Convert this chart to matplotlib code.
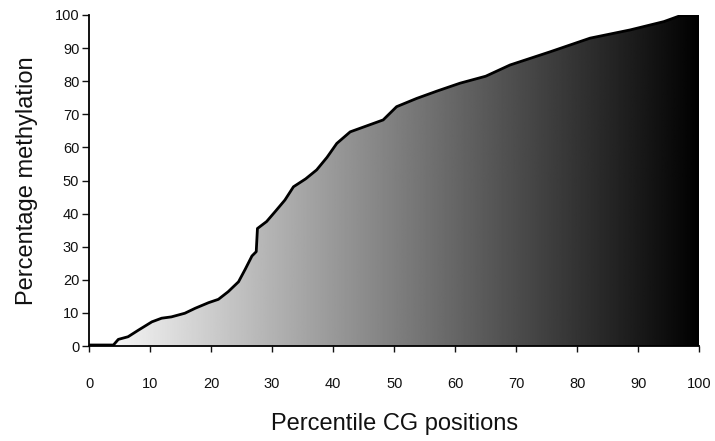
import numpy as np
import matplotlib
matplotlib.use("Agg")
import matplotlib.pyplot as plt
from matplotlib.patches import Polygon

percentile = [0, 4, 4.8, 6.4, 8.1, 10.3, 11.9, 13.5, 15.7, 17.4, 19.6, 21.2, 22.8,
              24.5, 25.6, 26.7, 27.4, 27.6, 29.1, 30.5, 32.1, 33.5, 35.5, 37.3, 39.0,
              40.6, 42.8, 45.5, 48.2, 50.4, 53.7, 57.0, 60.8, 65.0, 69.0, 75.6, 82.1,
              88.7, 94.2, 96.9, 100]
methylation = [0.3, 0.3, 2.0, 2.8, 4.8, 7.3, 8.4, 8.8, 9.9, 11.4, 13.1, 14.1, 16.4,
               19.4, 23.2, 27.2, 28.5, 35.5, 37.6, 40.6, 44.1, 48.1, 50.5, 53.2, 57.0,
               61.2, 64.7, 66.5, 68.3, 72.3, 74.8, 77.0, 79.4, 81.5, 84.9, 88.9, 93.0,
               95.5, 98.0, 99.8, 100]
xticks = list(range(0, 101, 10))
yticks = list(range(0, 101, 10))

plt.rcParams['font.family'] = ['Liberation Sans', 'DejaVu Sans']

fig = plt.figure(figsize=(7.15, 4.41), dpi=100)
ax = fig.add_axes([0.1245, 0.2154, 0.8535, 0.7506])

x = np.array(percentile)
y = np.array(methylation)

# gradient fill clipped to area under curve
grad = np.linspace(1.0, 0.0, 512).reshape(1, -1)
im = ax.imshow(grad, extent=[0, 100, 0, 100], aspect='auto', cmap='gray',
               vmin=0, vmax=1, origin='lower', zorder=1)
verts = np.column_stack([np.concatenate([x, [100, 0]]), np.concatenate([y, [0, 0]])])
poly = Polygon(verts, closed=True, facecolor='none', edgecolor='none', transform=ax.transData)
ax.add_patch(poly)
im.set_clip_path(poly)

ax.plot(x, y, color='black', lw=2.0, zorder=3)

ax.set_xlim(0, 100)
ax.set_ylim(0, 100)
ax.set_xticks(xticks)
ax.set_yticks(yticks)
ax.tick_params(axis='x', direction='out', length=4, width=1, pad=18, labelsize=10.5, colors='#111111')
ax.tick_params(axis='y', direction='out', length=5, width=1, pad=2, labelsize=10.5, colors='#111111')
for s in ['top', 'right']:
    ax.spines[s].set_visible(False)
for s in ['left', 'bottom']:
    ax.spines[s].set_linewidth(1.3)
    ax.spines[s].set_color('black')

ax.set_xlabel('Percentile CG positions', fontsize=17, color='#111111', labelpad=16)
ax.set_ylabel('Percentage methylation', fontsize=17, color='#111111', labelpad=12)

fig.savefig('out.png', dpi=100)
